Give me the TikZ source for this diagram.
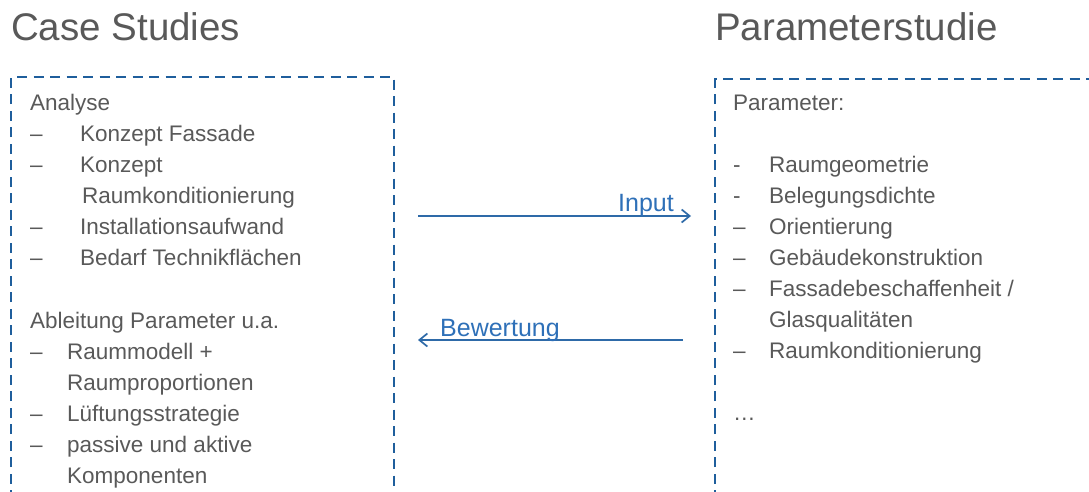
\documentclass[tikz,border=0pt]{standalone}
\usepackage{fontspec}
\setmainfont{Liberation Sans}
\usetikzlibrary{arrows.meta}
\definecolor{txtgray}{HTML}{595959}
\definecolor{boxblue}{HTML}{1F5E9C}
\definecolor{arrblue}{HTML}{2E6AA8}
\definecolor{lblblue}{HTML}{2E70B8}
\begin{document}
\begin{tikzpicture}[x=1pt,y=-1pt,
  title/.style={anchor=base west,inner sep=0pt,text=txtgray,font=\fontsize{38.5}{40}\selectfont},
  item/.style={anchor=base west,inner sep=0pt,text=txtgray,font=\fontsize{22.5}{26}\selectfont},
  lbl/.style={inner sep=0pt,text=lblblue,font=\fontsize{25}{28}\selectfont},
  dbox/.style={draw=boxblue,line width=2.2pt,dash pattern=on 10pt off 6.5pt},
  flow/.style={draw=arrblue,line width=1.7pt,-{Straight Barb[length=8pt,width=13pt,line width=1.7pt]}}]
\useasboundingbox (0,0) rectangle (1089,491);
% titles
\node[title] (t1) at (11,40) {Case Studies};
\node[title] (t2) at (715,40) {Parameterstudie};
% boxes (open at bottom / right edge)
\draw[dbox] (11,500) -- (11,77) -- (394,77) -- (394,500);
\draw[dbox] (715,500) -- (715,79) -- (1100,79);
% left content
\node[item] (a0) at (30,110) {Analyse};
\node[item] (a1d) at (30,141) {–};
\node[item] (a1) at (80,141) {Konzept Fassade};
\node[item] (a2d) at (30,172) {–};
\node[item] (a2) at (80,172) {Konzept};
\node[item] (a2b) at (82,203) {Raumkonditionierung};
\node[item] (a3d) at (30,234) {–};
\node[item] (a3) at (80,234) {Installationsaufwand};
\node[item] (a4d) at (30,265) {–};
\node[item] (a4) at (80,265) {Bedarf Technikflächen};
\node[item] (b0) at (30,328) {Ableitung Parameter u.a.};
\node[item] (b1d) at (30,359) {–};
\node[item] (b1) at (67,359) {Raummodell +};
\node[item] (b1b) at (67,390) {Raumproportionen};
\node[item] (b2d) at (30,421) {–};
\node[item] (b2) at (67,421) {Lüftungsstrategie};
\node[item] (b3d) at (30,452) {–};
\node[item] (b3) at (67,452) {passive und aktive};
\node[item] (b3b) at (67,483) {Komponenten};
% right content
\node[item] (p0) at (733,110) {Parameter:};
\node[item] (p1d) at (733,172) {-};
\node[item] (p1) at (769,172) {Raumgeometrie};
\node[item] (p2d) at (733,203) {-};
\node[item] (p2) at (769,203) {Belegungsdichte};
\node[item] (p3d) at (733,234) {–};
\node[item] (p3) at (769,234) {Orientierung};
\node[item] (p4d) at (733,265) {–};
\node[item] (p4) at (769,265) {Gebäudekonstruktion};
\node[item] (p5d) at (733,296) {–};
\node[item] (p5) at (769,296) {Fassadebeschaffenheit /};
\node[item] (p5b) at (769,327) {Glasqualitäten};
\node[item] (p6d) at (733,358) {–};
\node[item] (p6) at (769,358) {Raumkonditionierung};
\node[item] (p7) at (733,420) {…};
% arrows
\coordinate (inS) at (418,216);
\coordinate (inE) at (691,216);
\coordinate (bwS) at (683,340);
\coordinate (bwE) at (418,340);
\draw[flow] (inS) -- (inE);
\draw[flow] (bwS) -- (bwE);
\node[lbl,anchor=base east] (inl) at (674,211) {Input};
\node[lbl,anchor=base west] (bwl) at (440,336) {Bewertung};
\end{tikzpicture}
\end{document}
